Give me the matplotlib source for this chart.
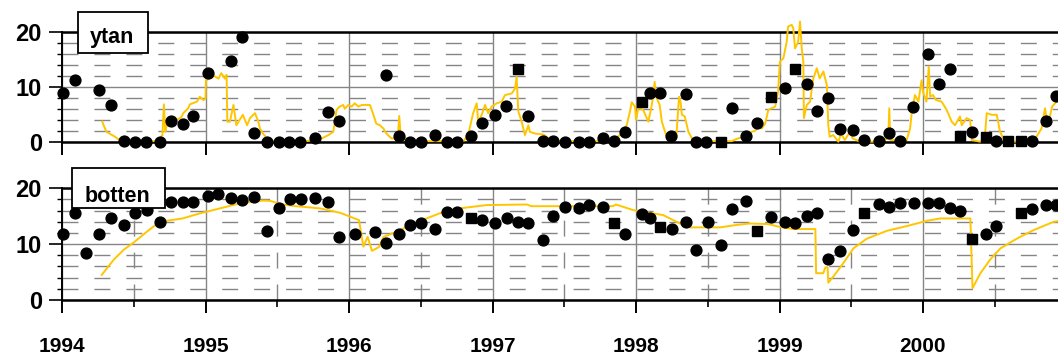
import matplotlib
matplotlib.use("Agg")
import matplotlib.pyplot as plt
from matplotlib.patches import Rectangle
from matplotlib.ticker import NullLocator, FixedLocator

# ---------------- data ----------------
panel_labels = ["ytan", "botten"]
year_ticks = [1994, 1995, 1996, 1997, 1998, 1999, 2000]
y_ticks = [0, 10, 20]

# ytan (surface) – observations (circles)
ytan_obs_t = [1994.01, 1994.09, 1994.26, 1994.34, 1994.43, 1994.51, 1994.585, 1994.685, 1994.76,
              1994.84, 1994.915, 1995.02, 1995.175, 1995.256, 1995.34, 1995.43, 1995.51, 1995.585,
              1995.66, 1995.76, 1995.855, 1995.93, 1996.256, 1996.35, 1996.425, 1996.5, 1996.6,
              1996.68, 1996.75, 1996.85, 1996.925, 1997.02, 1997.096, 1997.25, 1997.35, 1997.42,
              1997.505, 1997.6, 1997.67, 1997.77, 1997.85, 1997.92, 1998.1, 1998.17, 1998.245,
              1998.345, 1998.42, 1998.49, 1998.67, 1998.77, 1998.845, 1999.04, 1999.19, 1999.26,
              1999.34, 1999.42, 1999.51, 1999.59, 1999.69, 1999.76, 1999.84, 1999.93, 2000.035,
              2000.11, 2000.185, 2000.34, 2000.51, 2000.76, 2000.86, 2000.93]
ytan_obs_v = [8.9, 11.2, 9.5, 6.7, 0.1, 0.0, 0.0, 0.0, 3.8,
              3.2, 4.6, 12.6, 14.8, 19.0, 1.5, 0.0, 0.0, 0.0,
              0.0, 0.7, 5.5, 3.8, 12.1, 1.0, 0.0, 0.0, 1.3,
              0.0, 0.0, 1.1, 3.35, 4.9, 6.5, 4.6, 0.1, 0.1,
              0.0, 0.0, 0.0, 0.6, 0.2, 1.7, 8.8, 8.8, 1.0,
              8.7, 0.0, 0.0, 6.2, 1.1, 3.5, 9.8, 10.6, 5.6,
              7.9, 2.4, 2.1, 0.3, 0.1, 1.5, 0.1, 6.3, 16.0,
              10.6, 13.25, 1.8, 0.1, 0.1, 3.8, 8.3]
# ytan – observations (squares)
ytan_sq_t = [1997.175, 1998.04, 1998.59, 1998.94, 1999.11, 2000.26, 2000.44, 2000.59, 2000.68]
ytan_sq_v = [13.25, 7.2, 0.0, 8.2, 13.2, 1.1, 0.8, 0.1, 0.1]

# ytan – model
ytan_mod_t = [1994.281, 1994.29, 1994.30, 1994.31, 1994.35, 1994.37, 1994.39, 1994.43, 1994.66, 1994.68,
              1994.70, 1994.71, 1994.72, 1994.73, 1994.75, 1994.80, 1994.83, 1994.845, 1994.88, 1994.89,
              1994.94, 1994.96, 1994.985, 1995.0, 1995.003, 1995.03, 1995.06, 1995.09, 1995.11, 1995.135,
              1995.147, 1995.152, 1995.17, 1995.195, 1995.215, 1995.26, 1995.29, 1995.31, 1995.345, 1995.368,
              1995.38, 1995.40, 1995.43, 1995.45, 1995.70, 1995.76, 1995.81, 1995.856, 1995.89, 1995.90,
              1995.913, 1995.935, 1995.96, 1995.97, 1995.995, 1996.018, 1996.04, 1996.065, 1996.09, 1996.146,
              1996.17, 1996.19, 1996.215, 1996.24, 1996.26, 1996.296, 1996.34, 1996.35, 1996.36, 1996.38,
              1996.41, 1996.43, 1996.797, 1996.83, 1996.865, 1996.89, 1996.9, 1996.925, 1996.948, 1996.97,
              1996.994, 1997.03, 1997.064, 1997.087, 1997.134, 1997.157, 1997.168, 1997.18, 1997.203, 1997.226,
              1997.25, 1997.26, 1997.296, 1997.354, 1997.377, 1997.40, 1997.42, 1997.78, 1997.853, 1997.888,
              1997.935, 1997.958, 1997.97, 1997.993, 1998.0, 1998.016, 1998.05, 1998.086, 1998.11, 1998.12,
              1998.13, 1998.14, 1998.165, 1998.18, 1998.21, 1998.23, 1998.28, 1998.30, 1998.31, 1998.32,
              1998.34, 1998.365, 1998.39, 1998.41, 1998.667, 1998.71, 1998.76, 1998.807, 1998.83, 1998.853,
              1998.876, 1998.90, 1998.922, 1998.945, 1998.97, 1998.99, 1999.003, 1999.027, 1999.05, 1999.06,
              1999.085, 1999.096, 1999.108, 1999.13, 1999.143, 1999.155, 1999.166, 1999.17, 1999.19, 1999.213,
              1999.236, 1999.26, 1999.28, 1999.306, 1999.33, 1999.34, 1999.35, 1999.375, 1999.41, 1999.43,
              1999.455, 1999.49, 1999.51, 1999.56, 1999.677, 1999.72, 1999.758, 1999.765, 1999.772, 1999.886,
              1999.91, 1999.921, 1999.944, 1999.968, 1999.99, 2000.0, 2000.024, 2000.04, 2000.05, 2000.07,
              2000.09, 2000.13, 2000.165, 2000.2, 2000.223, 2000.258, 2000.27, 2000.304, 2000.328, 2000.34,
              2000.398, 2000.43, 2000.444, 2000.48, 2000.514, 2000.537, 2000.56, 2000.58, 2000.746, 2000.79,
              2000.826, 2000.85, 2000.87, 2000.9, 2000.93, 2000.96]
ytan_mod_v = [3.65, 3.0, 2.4, 1.8, 1.2, 0.9, 0.5, 0.1, 0.1, 0.6,
              1.2, 6.8, 1.8, 3.0, 4.0, 4.0, 4.4, 5.2, 6.1, 6.8,
              7.3, 8.2, 7.6, 7.8, 11.2, 11.5, 12.0, 11.5, 12.5, 11.5,
              12.2, 3.65, 3.65, 6.7, 3.0, 4.9, 3.0, 4.3, 5.2, 3.65,
              2.4, 1.5, 0.6, 0.1, 0.1, 0.3, 0.6, 1.2, 1.8, 3.3,
              5.8, 6.4, 6.7, 6.0, 6.7, 6.4, 7.0, 6.4, 6.7, 6.7,
              4.9, 3.3, 3.0, 2.4, 1.5, 0.6, 0.6, 4.7, 1.2, 0.9,
              0.3, 0.1, 0.1, 1.2, 5.2, 7.0, 3.65, 4.9, 6.7, 5.2,
              6.4, 7.0, 7.3, 8.5, 8.8, 9.7, 11.85, 5.5, 3.65, 1.2,
              3.0, 1.8, 1.5, 1.3, 0.9, 0.3, 0.1, 0.1, 0.6, 1.2,
              3.0, 5.5, 7.2, 6.4, 4.0, 6.1, 5.8, 3.65, 6.7, 8.5,
              10.9, 8.2, 6.7, 3.65, 1.2, 0.6, 0.6, 8.2, 7.3, 4.9,
              4.6, 1.8, 0.6, 0.1, 0.1, 0.6, 0.9, 1.8, 2.0, 2.7,
              2.4, 3.3, 5.8, 6.1, 6.4, 9.1, 14.6, 15.2, 18.2, 21.0,
              21.3, 20.7, 17.0, 18.2, 21.9, 17.0, 14.6, 4.3, 6.7, 7.3,
              11.55, 13.4, 11.55, 12.8, 10.3, 3.0, 0.9, 1.2, 0.0, 1.5,
              0.3, 1.8, 0.6, 0.0, 0.0, 0.3, 0.6, 6.1, 0.3, 0.3,
              2.4, 5.2, 8.5, 7.3, 11.2, 9.1, 7.3, 13.7, 8.2, 8.5,
              7.6, 7.3, 5.8, 3.65, 3.0, 4.6, 3.0, 4.3, 4.0, 0.3,
              0.0, 0.6, 5.2, 4.9, 4.9, 1.8, 0.6, 0.0, 0.0, 0.9,
              2.4, 6.1, 3.0, 6.4, 7.3, 8.0]

# botten (bottom) – observations (circles)
botten_obs_t = [1994.01, 1994.09, 1994.165, 1994.26, 1994.34, 1994.43, 1994.51, 1994.59, 1994.685, 1994.76,
                1994.84, 1994.915, 1995.02, 1995.09, 1995.175, 1995.256, 1995.34, 1995.43, 1995.51, 1995.59,
                1995.665, 1995.76, 1995.855, 1995.93, 1996.04, 1996.18, 1996.256, 1996.35, 1996.425, 1996.5,
                1996.6, 1996.68, 1996.75, 1996.93, 1997.02, 1997.1, 1997.175, 1997.25, 1997.35, 1997.42,
                1997.505, 1997.6, 1997.67, 1997.77, 1997.92, 1998.04, 1998.1, 1998.25, 1998.345, 1998.42,
                1998.5, 1998.59, 1998.67, 1998.77, 1998.94, 1999.04, 1999.11, 1999.19, 1999.26, 1999.34,
                1999.42, 1999.51, 1999.69, 1999.76, 1999.84, 1999.94, 2000.035, 2000.11, 2000.185, 2000.26,
                2000.44, 2000.51, 2000.76, 2000.86, 2000.93]
botten_obs_v = [11.9, 15.6, 8.5, 11.9, 14.7, 13.4, 15.5, 16.2, 14.0, 17.6,
                17.6, 17.6, 18.6, 19.0, 18.3, 17.9, 18.4, 12.35, 16.5, 18.0,
                18.1, 18.2, 17.5, 11.3, 11.8, 12.2, 10.15, 11.8, 13.4, 13.85,
                12.8, 15.7, 15.7, 14.4, 13.85, 14.6, 13.9, 13.7, 10.7, 15.0,
                16.6, 16.4, 17.0, 16.7, 11.9, 15.4, 14.7, 12.65, 13.9, 8.95,
                13.9, 9.8, 16.3, 17.8, 14.9, 13.9, 13.85, 15.1, 15.5, 7.3,
                8.8, 12.5, 17.1, 16.6, 17.3, 17.3, 17.4, 17.3, 16.4, 15.9,
                11.75, 13.3, 16.3, 17.0, 17.0]
# botten – observations (squares)
botten_sq_t = [1996.85, 1997.85, 1998.17, 1998.845, 1999.59, 2000.34, 2000.68]
botten_sq_v = [14.6, 13.7, 13.0, 12.35, 15.5, 10.9, 15.5]

# botten – model
botten_mod_t = [1994.277, 1994.36, 1994.43, 1994.5, 1994.59, 1994.68, 1994.84, 1994.96, 1995.1, 1995.24,
                1995.4, 1995.45, 1995.54, 1995.63, 1995.8, 1995.94, 1996.0, 1996.07, 1996.1, 1996.13,
                1996.16, 1996.21, 1996.24, 1996.33, 1996.425, 1996.54, 1996.66, 1996.77, 1996.96, 1997.24,
                1997.27, 1997.5, 1997.84, 1997.86, 1997.98, 1998.19, 1998.33, 1998.375, 1998.585, 1998.69,
                1998.79, 1998.92, 1999.0, 1999.096, 1999.25, 1999.255, 1999.305, 1999.32, 1999.335, 1999.34,
                1999.375, 1999.445, 1999.515, 1999.61, 1999.75, 1999.89, 2000.03, 2000.12, 2000.33, 2000.345,
                2000.4, 2000.47, 2000.54, 2000.655, 2000.77, 2000.91, 2000.96]
botten_mod_v = [4.5, 7.2, 9.0, 10.3, 12.2, 14.0, 14.6, 15.5, 16.4, 17.3,
                17.8, 17.75, 17.1, 16.8, 16.4, 15.6, 15.0, 14.3, 9.55, 11.3,
                8.8, 9.5, 11.3, 12.2, 13.4, 14.6, 15.8, 16.4, 17.0, 17.1,
                16.8, 16.8, 16.8, 17.1, 16.1, 15.2, 13.4, 13.0, 13.0, 13.4,
                13.7, 13.6, 13.1, 12.7, 12.7, 4.8, 4.8, 5.85, 5.85, 3.1,
                4.2, 6.6, 9.25, 11.0, 12.4, 13.25, 14.2, 14.6, 14.6, 2.1,
                4.8, 7.3, 9.25, 11.0, 12.5, 14.0, 14.2]

# ---------------- figure ----------------
W, H = 1058, 356
fig = plt.figure(figsize=(W / 100, H / 100), dpi=100)
plt.rcParams['font.family'] = ['Liberation Sans', 'DejaVu Sans']

X0 = 1994.0
PX_PER_YEAR = 143.5
x_left = 62
XMAX = X0 + (W - x_left) / PX_PER_YEAR

GOLD = '#FFC600'
GRID = '#858585'
DASH = (0, (11.5, 11.5))

def fy(py):
    return (H - py) / H

ax_top = fig.add_axes([x_left / W, fy(141.7), 1 - x_left / W, fy(32) - fy(141.7)])
ax_bot = fig.add_axes([x_left / W, fy(300), 1 - x_left / W, fy(188.3) - fy(300)])

panels = [
    (ax_top, ytan_mod_t, ytan_mod_v, ytan_obs_t, ytan_obs_v, ytan_sq_t, ytan_sq_v, False),
    (ax_bot, botten_mod_t, botten_mod_v, botten_obs_t, botten_obs_v, botten_sq_t, botten_sq_v, True),
]

for ax, mt, mv, ot, ov, st, sv, is_bottom in panels:
    ax.set_xlim(X0, XMAX)
    ax.set_ylim(0, 20)
    ax.set_facecolor('white')
    ax.set_axisbelow(True)

    ax.yaxis.set_major_locator(FixedLocator(y_ticks))
    ax.yaxis.set_minor_locator(FixedLocator([2, 4, 6, 8, 12, 14, 16, 18]))
    ax.xaxis.set_major_locator(FixedLocator(year_ticks))
    if is_bottom:
        ax.xaxis.set_minor_locator(FixedLocator([y + 0.5 for y in year_ticks]))
    else:
        ax.xaxis.set_minor_locator(NullLocator())
    ax.grid(True, which='major', axis='both', color=GRID, lw=1.0, ls='-')
    ax.grid(True, which='minor', axis='y', color=GRID, lw=1.0, ls=DASH)
    if is_bottom:
        ax.grid(True, which='minor', axis='x', color=GRID, lw=1.0, ls=DASH)

    for s in ['top', 'bottom']:
        ax.spines[s].set_linewidth(1.8)
        ax.spines[s].set_color('black')
    ax.spines['left'].set_linewidth(1.4)
    ax.spines['right'].set_visible(False)

    ax.tick_params(axis='y', which='major', direction='out', length=9.4, width=1.2, pad=5)
    ax.tick_params(axis='y', which='minor', direction='out', length=3.6, width=1.0)
    ax.tick_params(axis='x', which='major', direction='out', length=9.4, width=1.4,
                   pad=17, labelbottom=is_bottom)
    ax.tick_params(axis='x', which='minor', direction='out', length=5, width=1.2)
    ax.set_yticklabels([str(v) for v in y_ticks], fontweight='bold', fontsize=17)
    if is_bottom:
        ax.set_xticklabels([str(y) for y in year_ticks], fontweight='bold', fontsize=15)

    ax.plot(mt, mv, color=GOLD, lw=1.4, zorder=3, clip_on=False)
    ax.plot(ot, ov, ls='none', marker='o', ms=7.8, color='black', zorder=4, clip_on=False)
    ax.plot(st, sv, ls='none', marker='s', ms=7.0, color='black', zorder=4, clip_on=False)

# label boxes
boxes = [
    (panel_labels[0], 78, 12, 70, 41, 112, 43.3),
    (panel_labels[1], 72, 168, 93, 40, 117, 201.7),
]
for txt, bx, by, bw, bh, tx, ty in boxes:
    fig.add_artist(Rectangle((bx / W, fy(by + bh)), bw / W, bh / H, transform=fig.transFigure,
                             facecolor='white', edgecolor='black', lw=1.3, zorder=10))
    fig.text(tx / W, fy(ty), txt, ha='center', va='baseline', fontsize=15.5,
             fontweight='bold', zorder=11)

fig.savefig('out.png', dpi=100, facecolor='white')
